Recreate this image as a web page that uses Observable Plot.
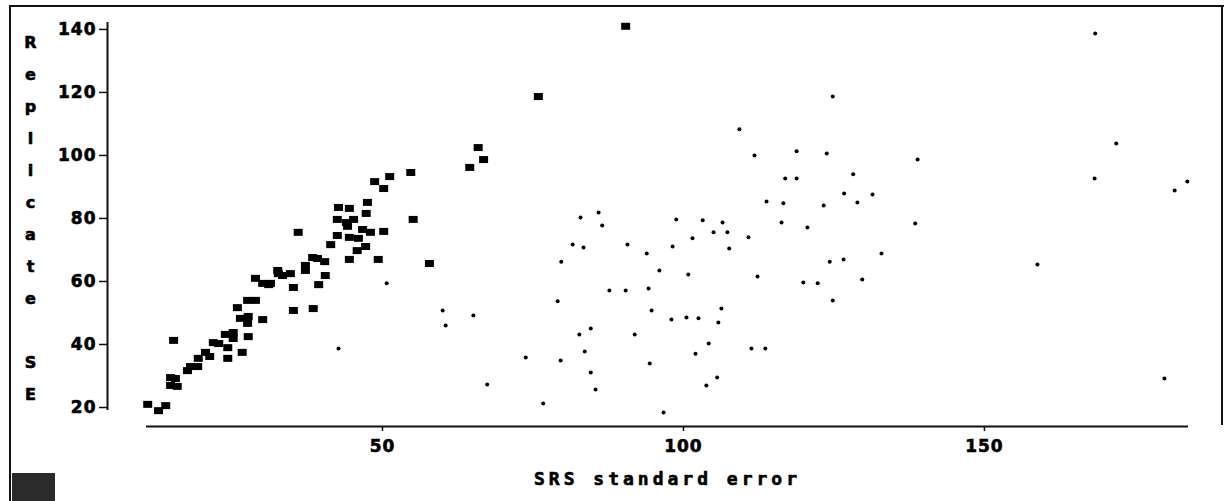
<!DOCTYPE html>
<html>
<head>
<meta charset="utf-8">
<script src="https://cdn.jsdelivr.net/npm/d3@7"></script>
<script src="https://cdn.jsdelivr.net/npm/@observablehq/plot@0.6"></script>
<style>
  html, body { margin: 0; padding: 0; background: #fff; }
  #wrap { position: relative; width: 1225px; height: 501px; overflow: hidden; }
  #wrap svg { position: absolute; left: 0; top: 0; }
  #wrap svg text { font-weight: bold !important; stroke: #000; stroke-width: 0.6px; }
  .frameTL { position: absolute; left: 9px; top: 5px; width: 1213px; height: 520px; border-left: 2px solid #111; border-top: 2px solid #111; }
  .frameR { position: absolute; left: 1221px; top: 5px; width: 0; height: 420px; border-left: 2px solid #111; }
  .corner { position: absolute; left: 12px; top: 473px; width: 43px; height: 28px; background: #2b2b2b; }
</style>
</head>
<body>
<div id="wrap">
  <div class="frameTL"></div>
  <div class="frameR"></div>
  <div class="corner"></div>
</div>
<script>
// Axis text
const xLabel = "SRS standard error";
const yLabelLetters = ["R","e","p","l","i","c","a","t","e"," ","S","E"];
const xTicks = [50, 100, 150];
const yTicks = [20, 40, 60, 80, 100, 120, 140];
const xDomain = [10.8, 183.9];
const yDomain = [19.05, 142.2];

// Series 1: large squares (SRS SE, replicate SE)
const sqX = [11.0,12.8,14.0,15.3,14.8,15.6,14.8,15.9,17.6,18.1,19.3,19.4,20.6,21.3,21.9,22.8,24.3,24.3,23.9,25.2,
  25.2,26.7,27.7,26.4,27.7,27.6,25.9,30.1,27.6,28.9,28.9,30.1,31.1,32.7,31.4,32.6,33.4,34.7,35.2,35.2,
  38.5,37.2,37.2,38.4,39.2,40.4,39.4,40.5,36.0,41.4,42.5,44.5,46.0,44.5,45.8,47.2,46.7,48.0,50.2,49.3,
  42.5,44.0,45.2,44.2,42.7,44.5,47.3,47.5,48.7,50.2,51.2,54.7,55.1,64.5,65.9,66.8,75.9,90.4,57.8];
const sqY = [21.0,19.0,20.6,41.3,29.5,29.2,27.0,26.7,31.7,33.0,33.0,35.6,37.5,36.2,40.6,40.3,35.6,39.0,43.2,43.8,
  41.9,37.5,42.5,48.3,48.9,46.7,51.7,47.9,54.0,54.0,61.0,59.4,59.0,62.5,59.4,63.5,61.9,62.5,58.1,50.8,
  51.4,65.1,63.5,67.6,67.3,66.3,59.0,61.9,75.6,71.7,74.6,74.0,73.7,67.0,69.8,71.1,76.5,75.6,75.9,67.0,
  79.7,78.7,79.7,77.5,83.5,83.2,81.6,85.1,91.7,89.5,93.3,94.6,79.7,96.2,102.5,98.7,118.7,141.0,65.7];

// Series 2: small dots
const dotX = [50.7,42.7,79.7,93.9,96.0,100.8,87.7,90.4,94.2,112.3,119.9,122.3,60.0,60.5,65.1,79.1,94.7,106.3,98.0,100.5,
  102.5,105.8,82.7,84.6,91.9,83.6,104.2,102.0,111.3,113.6,73.8,79.6,94.4,84.6,85.4,67.4,105.6,103.8,76.7,96.7,
  109.3,111.8,118.8,116.9,118.8,113.8,116.6,82.9,85.9,86.5,98.8,103.2,106.5,116.3,120.6,105.0,107.3,101.5,110.8,81.6,
  83.4,90.7,98.2,107.6,168.4,124.8,123.8,138.9,128.2,171.9,168.3,183.7,181.6,126.7,131.4,128.9,123.3,138.5,124.3,126.6,
  132.9,129.7,124.8,158.8,179.9];
const dotY = [59.4,38.7,66.3,68.9,63.5,62.2,57.1,57.1,57.8,61.6,59.7,59.4,50.8,46.0,49.2,53.7,50.8,51.4,47.9,48.6,
  48.3,47.0,43.2,45.1,43.2,37.8,40.3,37.1,38.7,38.7,35.9,34.9,34.0,31.1,25.7,27.3,29.5,27.0,21.3,18.4,
  108.3,100.0,101.3,92.7,92.7,85.4,84.8,80.3,81.9,77.8,79.7,79.4,78.7,78.7,77.1,75.6,75.6,73.7,74.0,71.7,
  70.8,71.7,71.1,70.5,138.7,118.7,100.6,98.7,94.0,103.8,92.7,91.7,88.9,87.9,87.6,85.1,84.1,78.4,66.3,67.0,
  68.9,60.6,54.0,65.4,29.2];

const squares = sqX.map((x, i) => ({x, y: sqY[i]}));
const dots = dotX.map((x, i) => ({x, y: dotY[i]}));

const rectSymbol = { draw(ctx) { ctx.rect(-4.5, -3.5, 9, 7); } };

const plot = Plot.plot({
  width: 1225,
  height: 501,
  marginLeft: 146,
  marginRight: 37,
  marginTop: 22,
  marginBottom: 91,
  x: { domain: xDomain },
  y: { domain: yDomain },
  style: { fontFamily: "DejaVu Sans", fontWeight: "bold", color: "#000", background: "transparent", overflow: "visible" },
  marks: [
    Plot.ruleY([yDomain[0]], { dy: 16, stroke: "#111", strokeWidth: 2 }),
    Plot.ruleX([xDomain[0]], { dx: -39, stroke: "#111", strokeWidth: 2 }),
    Plot.axisY(yTicks, { anchor: "left", dx: -39, tickSize: 8, tickPadding: 3, label: null, fontSize: 17, fontWeight: "bold", stroke: "#111", strokeWidth: 1.5 }),
    Plot.axisX(xTicks, { anchor: "bottom", dy: 16, tickSize: 5, tickPadding: 8, label: null, fontSize: 17, fontWeight: "bold", stroke: "#111", strokeWidth: 1.5 }),
    Plot.text([yLabelLetters.join("\n")], { frameAnchor: "top-left", dx: -116, dy: 3, lineAnchor: "top", lineHeight: 2.0, textAnchor: "middle", fontSize: 16, fontWeight: "bold", fill: "#000" }),
    Plot.text([xLabel], { frameAnchor: "bottom", dy: 69, lineAnchor: "middle", textAnchor: "middle", fontFamily: "DejaVu Sans Mono", fontSize: 18, fontWeight: "bold", fill: "#000" }),
    Plot.dot(dots, { x: "x", y: "y", r: 2, fill: "#000", stroke: "none" }),
    Plot.dot(squares, { x: "x", y: "y", symbol: rectSymbol, r: 4, fill: "#000", stroke: "none" })
  ]
});

document.getElementById("wrap").appendChild(plot);
d3.select(plot).selectAll("text").filter(function() { return this.textContent === xLabel; }).attr("letter-spacing", "4px");
d3.select(plot).selectAll("[aria-label='y-axis tick label'] text, [aria-label='x-axis tick label'] text").attr("letter-spacing", "1px");
</script>
</body>
</html>
